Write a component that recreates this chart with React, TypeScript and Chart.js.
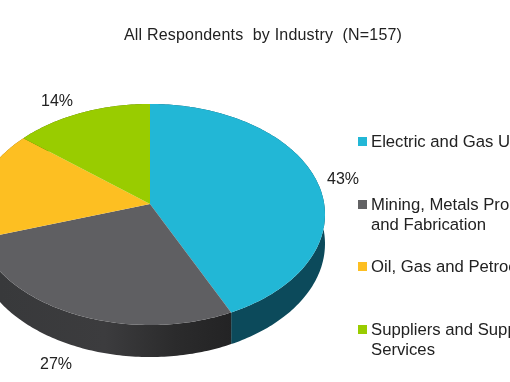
import React, { useEffect, useRef } from "react";
import { Chart, registerables } from "chart.js";

Chart.register(...registerables);

const titleText = "All Respondents  by Industry  (N=157)";
const categories = [
  "Electric and Gas Utilities",
  "Mining, Metals Processing and Fabrication",
  "Oil, Gas and Petrochemicals",
  "Suppliers and Support Services",
];
const legendLines = [
  ["Electric and Gas Utilities"],
  ["Mining, Metals Processing", "and Fabrication"],
  ["Oil, Gas and Petrochemicals"],
  ["Suppliers and Support", "Services"],
];
const values = [43, 27, 16, 14];
const percentLabels = ["43%", "27%", "16%", "14%"];

const topColors = ["#22b7d6", "#5f5f62", "#fdbf22", "#99cc00"];
const legendColors = ["#22b7d6", "#626264", "#fdbf22", "#99cc00"];
const legendY = [147, 210, 272, 335];
const labelPositions = [
  [343, 184],
  [56, 369],
  [-40, 225],
  [57, 106],
];

// perspective projection of the unit circle on to the tilted pie's top face
const CX = 150;
const CY = 204;
const RX = 174.2;
const RY = 109.5;
const PERSP = 0.095;
const DEPTH = 29;

const project = (a: number, drop = 0) => {
  const u = Math.cos(a);
  const v = Math.sin(a);
  const w = 1 - PERSP * v;
  return [CX + (RX * u) / w, CY + (RY * v) / w + drop / w];
};

const arcPoints = (start: number, end: number, drop = 0) => {
  const n = Math.max(2, Math.ceil((end - start) * 60));
  const pts: number[][] = [];
  for (let i = 0; i <= n; i++) pts.push(project(start + ((end - start) * i) / n, drop));
  return pts;
};

const tiltedPie = {
  id: "tiltedPie",
  beforeDatasetsDraw(chart: any) {
    const { ctx } = chart;
    const arcs = chart.getDatasetMeta(0).data;
    const grayWall = ctx.createLinearGradient(0, 0, 233, 0);
    grayWall.addColorStop(0, "#38393b");
    grayWall.addColorStop(0.45, "#3c3c3e");
    grayWall.addColorStop(0.75, "#2b2b2c");
    grayWall.addColorStop(1, "#232324");
    const wallFills = ["#0c4a5b", grayWall, "#8a6510", "#4f6a00"];

    ctx.save();
    arcs.forEach((el: any, i: number) => {
      const top = arcPoints(el.startAngle, el.endAngle);
      const bottom = arcPoints(el.startAngle, el.endAngle, DEPTH).reverse();
      ctx.beginPath();
      [...top, ...bottom].forEach(([x, y], k) => (k ? ctx.lineTo(x, y) : ctx.moveTo(x, y)));
      ctx.closePath();
      ctx.fillStyle = wallFills[i];
      ctx.fill();
    });
    arcs.forEach((el: any, i: number) => {
      ctx.beginPath();
      ctx.moveTo(CX, CY);
      arcPoints(el.startAngle, el.endAngle).forEach(([x, y]) => ctx.lineTo(x, y));
      ctx.closePath();
      ctx.fillStyle = topColors[i];
      ctx.fill();
    });

    ctx.textBaseline = "alphabetic";
    ctx.textAlign = "center";
    ctx.fillStyle = "#222222";
    ctx.font = '16px "Liberation Sans"';
    percentLabels.forEach((t, i) => ctx.fillText(t, labelPositions[i][0], labelPositions[i][1]));

    ctx.font = '16px "Liberation Sans"';
    ctx.letterSpacing = "0.2px";
    ctx.fillText(titleText, 263, 39.5);
    ctx.letterSpacing = "0px";

    ctx.textAlign = "left";
    ctx.font = '16.7px "Liberation Sans"';
    categories.forEach((_, i) => {
      ctx.fillStyle = legendColors[i];
      ctx.fillRect(358, legendY[i] - 10, 9, 9);
      ctx.fillStyle = "#222222";
      legendLines[i].forEach((line, k) => ctx.fillText(line, 371, legendY[i] + k * 19.5));
    });
    ctx.restore();
    return false;
  },
};

export default function App() {
  const ref = useRef<HTMLCanvasElement>(null);
  useEffect(() => {
    const chart = new Chart(ref.current!, {
      type: "pie",
      data: {
        labels: categories,
        datasets: [{ data: values, backgroundColor: topColors, borderWidth: 0 }],
      },
      options: {
        animation: false,
        responsive: false,
        plugins: { legend: { display: false }, tooltip: { enabled: false } },
      },
      plugins: [tiltedPie],
    });
    return () => chart.destroy();
  }, []);
  return (
    <div style={{ position: "fixed", left: 0, top: 0, width: 510, height: 382, overflow: "hidden", background: "#fff" }}>
      <canvas ref={ref} width={510} height={382} style={{ display: "block" }} />
    </div>
  );
}
